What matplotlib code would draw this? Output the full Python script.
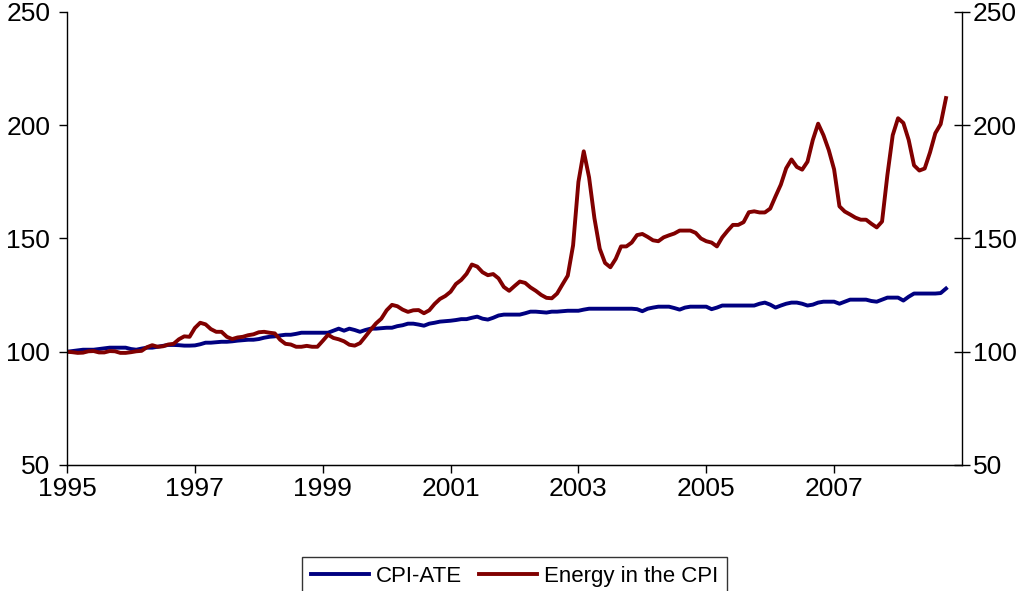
import numpy as np
import matplotlib
matplotlib.use("Agg")
import matplotlib.pyplot as plt

plt.rcParams['font.family'] = ['Liberation Sans', 'DejaVu Sans']

# monthly index values, Jan 1995 = 100, Jan 1995 .. Oct 2008
cpi_ate = [
    100, 100.3, 100.6, 100.9, 100.9, 100.9, 101.2, 101.5, 101.8, 101.8, 101.8, 101.8,
    101.2, 100.9, 101.4, 101.8, 101.8, 102.2, 102.6, 103, 103, 102.9, 102.7, 102.7,
    102.8, 103.3, 104, 104, 104.2, 104.4, 104.4, 104.6, 104.9, 105.1, 105.3, 105.3,
    105.6, 106.2, 106.6, 106.8, 107.2, 107.5, 107.5, 107.9, 108.4, 108.4, 108.4, 108.4,
    108.4, 108.4, 109.3, 110.2, 109.3, 110.2, 109.6, 108.8, 109.6, 110.2, 110.2, 110.4,
    110.6, 110.6, 111.3, 111.7, 112.4, 112.4, 112, 111.5, 112.4, 112.8, 113.3, 113.5,
    113.7, 114, 114.4, 114.4, 115, 115.5, 114.6, 114.2, 115, 116, 116.4, 116.4,
    116.4, 116.4, 117, 117.7, 117.7, 117.5, 117.3, 117.7, 117.7, 117.9, 118.1, 118.1,
    118.1, 118.6, 119, 119, 119, 119, 119, 119, 119, 119, 119, 118.8,
    117.9, 119, 119.5, 119.9, 119.9, 119.9, 119.3, 118.6, 119.5, 119.9, 119.9, 119.9,
    119.9, 118.8, 119.5, 120.4, 120.4, 120.4, 120.4, 120.4, 120.4, 120.4, 121.2, 121.7,
    120.8, 119.5, 120.4, 121.2, 121.7, 121.7, 121.2, 120.4, 120.8, 121.7, 122.1, 122.1,
    122.1, 121.2, 122.1, 123, 123, 123, 123, 122.4, 122.1, 123, 123.9, 123.9,
    123.9, 122.6, 124.3, 125.7, 125.7, 125.7, 125.7, 125.7, 125.9, 127.9,
]
energy = [
    100, 99.8, 99.5, 99.6, 100.2, 100.3, 99.7, 99.7, 100.3, 100.2, 99.5, 99.5,
    99.8, 100.2, 100.4, 102, 102.9, 102.2, 102.4, 103.2, 103.5, 105.5, 106.8, 106.6,
    110.5, 112.8, 112.1, 110, 108.8, 108.8, 106.6, 105.6, 106.3, 106.6, 107.3, 107.7,
    108.6, 108.8, 108.4, 108.1, 105.3, 103.5, 103.2, 102.2, 102.2, 102.6, 102.2, 102.2,
    104.8, 107.5, 106.1, 105.5, 104.6, 103.1, 102.7, 103.8, 106.7, 109.7, 112.5, 114.6,
    118.3, 120.7, 120.1, 118.6, 117.6, 118.3, 118.4, 117, 118.3, 121.1, 123.3, 124.6,
    126.5, 129.9, 131.7, 134.4, 138.5, 137.6, 135.1, 133.8, 134.3, 132.4, 128.6, 126.9,
    129, 131, 130.4, 128.4, 126.9, 125.1, 123.8, 123.6, 125.7, 129.7, 133.6, 147,
    175, 188.5, 177, 159, 145.5, 139.2, 137.3, 141, 146.5, 146.5, 148.2, 151.5,
    152, 150.7, 149.2, 148.8, 150.5, 151.4, 152.2, 153.5, 153.5, 153.5, 152.5, 150,
    148.8, 148.2, 146.5, 150.5, 153.4, 156, 156, 157.2, 161.6, 162, 161.5, 161.5,
    163.2, 168.6, 173.8, 181, 184.9, 181.6, 180.4, 183.9, 193.5, 200.7, 195.6, 189,
    180.5, 164.2, 161.9, 160.6, 159.2, 158.3, 158.3, 156.5, 154.9, 157.5, 178, 195.6,
    203.1, 201, 193.5, 182.3, 180, 180.9, 188, 196.5, 200.5, 212,
]
dates = 1995 + np.arange(len(energy)) / 12.0
year_ticks = [1995, 1997, 1999, 2001, 2003, 2005, 2007]
y_ticks = [50, 100, 150, 200, 250]

fig = plt.figure(figsize=(10.25, 5.91), dpi=100)
ax = fig.add_axes([0.0654, 0.2132, 0.8731, 0.7665])
ax.plot(dates, cpi_ate, color='#000080', lw=2.8, label='CPI-ATE')
ax.plot(dates, energy, color='#800000', lw=2.8, label='Energy in the CPI')

ax.set_xlim(1995, 2009)
ax.set_ylim(50, 250)
ax.set_xticks(year_ticks)
ax.set_yticks(y_ticks)
ax.tick_params(axis='y', direction='out', length=6, width=1, labelsize=19, pad=6)
ax.tick_params(axis='x', direction='out', length=6, width=1, labelsize=19, pad=3)
ax.spines['top'].set_visible(False)
ax.spines['right'].set_visible(False)
for s in ['left', 'bottom']:
    ax.spines[s].set_linewidth(1)

ax2 = ax.twinx()
ax2.set_ylim(50, 250)
ax2.set_yticks(y_ticks)
ax2.tick_params(axis='y', direction='inout', length=12, width=1, labelsize=19, pad=2)
ax2.spines['top'].set_visible(False)
ax2.spines['left'].set_visible(False)
ax2.spines['right'].set_linewidth(1)

leg = fig.legend(loc='upper center', bbox_to_anchor=(0.502, 0.058), ncol=2, fontsize=16,
                 frameon=True, fancybox=False, edgecolor='black', handlelength=2.6,
                 columnspacing=0.8, handletextpad=0.3, borderpad=0.4, borderaxespad=0)
leg.get_frame().set_linewidth(1)

fig.savefig('out.png', dpi=100)
